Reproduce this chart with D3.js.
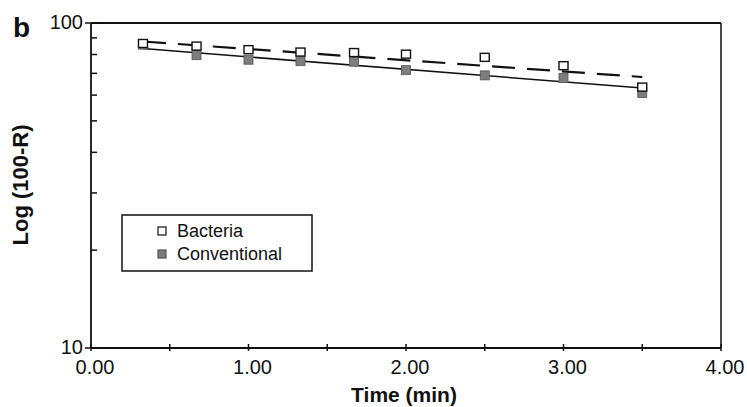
<!DOCTYPE html>
<html>
<head>
<meta charset="utf-8">
<script src="https://cdn.jsdelivr.net/npm/d3@7/dist/d3.min.js"></script>
<style>
  body { margin: 0; background: #fff; }
  text { font-family: "Liberation Sans", Arial, sans-serif; fill: #111; }
</style>
</head>
<body>
<div id="chart"></div>
<script>
// data
var times = [0.33, 0.67, 1.0, 1.33, 1.67, 2.0, 2.5, 3.0, 3.5];
var bacteria = [86.5, 84.9, 82.8, 81.4, 81.1, 80.2, 78.4, 73.9, 63.5];
var conventional = [85.8, 79.6, 77.1, 76.3, 76.0, 71.6, 69.0, 67.8, 60.9];
// regression lines (end points)
var fitTimes = [0.33, 3.5];
var bacteriaFit = [87.7, 68.2];
var conventionalFit = [83.4, 63.1];

var xTicks = [0, 1, 2, 3, 4];
var xMinorTicks = [0.5, 1.5, 2.5, 3.5];
var yTicks = [10, 100];
var yMinorTicks = [20, 30, 40, 50, 60, 70, 80, 90];

var W = 747, H = 407;
var mLeft = 91, mRight = 721, mTop = 23, mBottom = 348;

var svg = d3.select('#chart').append('svg')
  .attr('width', W).attr('height', H);

var x = d3.scaleLinear().domain([0, 4]).range([mLeft, mRight]);
var y = d3.scaleLog().domain([10, 100]).range([mBottom, mTop]);

// frame
svg.append('line').attr('x1', mLeft).attr('x2', mRight).attr('y1', mTop).attr('y2', mTop)
  .attr('stroke', '#111').attr('stroke-width', 2);
svg.append('line').attr('x1', mRight).attr('x2', mRight).attr('y1', mTop).attr('y2', mBottom)
  .attr('stroke', '#111').attr('stroke-width', 1.5);

// x axis
var xAxis = svg.append('g').attr('transform', 'translate(0,' + mBottom + ')');
xAxis.append('line').attr('x1', mLeft).attr('x2', mRight)
  .attr('stroke', '#111').attr('stroke-width', 1.8);
xAxis.selectAll('.xt').data(xTicks.concat(xMinorTicks)).enter().append('line')
  .attr('x1', function(d) { return x(d); }).attr('x2', function(d) { return x(d); })
  .attr('y1', -4).attr('y2', 3)
  .attr('stroke', '#111').attr('stroke-width', 1.5);
xAxis.selectAll('.xl').data(xTicks).enter().append('text')
  .attr('x', function(d) { return x(d) + 4; })
  .attr('y', 26)
  .attr('text-anchor', 'middle')
  .attr('font-size', 20)
  .text(function(d) { return d3.format('.2f')(d); });

// y axis
var yAxis = svg.append('g').attr('transform', 'translate(' + mLeft + ',0)');
yAxis.append('line').attr('y1', mTop).attr('y2', mBottom)
  .attr('stroke', '#111').attr('stroke-width', 1.8);
yAxis.selectAll('.ym').data(yMinorTicks).enter().append('line')
  .attr('y1', function(d) { return y(d); }).attr('y2', function(d) { return y(d); })
  .attr('x1', 0).attr('x2', 6)
  .attr('stroke', '#111').attr('stroke-width', 1.5);
yAxis.selectAll('.yM').data(yTicks).enter().append('line')
  .attr('y1', function(d) { return y(d); }).attr('y2', function(d) { return y(d); })
  .attr('x1', -6).attr('x2', 6)
  .attr('stroke', '#111').attr('stroke-width', 1.5);
yAxis.selectAll('.yl').data(yTicks).enter().append('text')
  .attr('x', -8)
  .attr('y', function(d) { return y(d) + 6; })
  .attr('text-anchor', 'end')
  .attr('font-size', 20)
  .text(function(d) { return d; });

// axis titles
svg.append('text').attr('x', 404).attr('y', 402)
  .attr('text-anchor', 'middle').attr('font-size', 21).attr('font-weight', 'bold')
  .text('Time (min)');
svg.append('text')
  .attr('transform', 'translate(28,185) rotate(-90)')
  .attr('text-anchor', 'middle').attr('font-size', 22).attr('font-weight', 'bold')
  .text('Log (100-R)');
svg.append('text').attr('x', 13).attr('y', 37)
  .attr('font-size', 28).attr('font-weight', 'bold')
  .text('b');

// fit lines
var fit = d3.line()
  .x(function(d) { return x(d[0]); })
  .y(function(d) { return y(d[1]); });
svg.append('path').datum(d3.zip(fitTimes, conventionalFit))
  .attr('d', fit).attr('fill', 'none')
  .attr('stroke', '#111').attr('stroke-width', 1.5);
svg.append('path').datum(d3.zip(fitTimes, bacteriaFit))
  .attr('d', fit).attr('fill', 'none')
  .attr('stroke', '#111').attr('stroke-width', 2.2)
  .attr('stroke-dasharray', '23,12');

// markers
var s = 9;
svg.selectAll('.conv').data(d3.zip(times, conventional)).enter().append('rect')
  .attr('x', function(d) { return x(d[0]) - s / 2; })
  .attr('y', function(d) { return y(d[1]) - s / 2; })
  .attr('width', s).attr('height', s)
  .attr('fill', '#7d7d7d').attr('stroke', '#555').attr('stroke-width', 0.8);
svg.selectAll('.bact').data(d3.zip(times, bacteria)).enter().append('rect')
  .attr('x', function(d) { return x(d[0]) - s / 2; })
  .attr('y', function(d) { return y(d[1]) - s / 2 + 0.5; })
  .attr('width', s).attr('height', s - 1)
  .attr('fill', '#fff').attr('stroke', '#111').attr('stroke-width', 1.4);

// legend
var lg = svg.append('g');
lg.append('rect').attr('x', 122).attr('y', 215).attr('width', 190).attr('height', 56)
  .attr('fill', '#fff').attr('stroke', '#111').attr('stroke-width', 1.5);
var legendItems = [
  { name: 'Bacteria', fill: '#fff', stroke: '#111' },
  { name: 'Conventional', fill: '#7d7d7d', stroke: '#555' }
];
var li = lg.selectAll('.li').data(legendItems).enter().append('g')
  .attr('transform', function(d, i) { return 'translate(162,' + (231 + i * 23) + ')'; });
li.append('rect').attr('x', -4).attr('y', -4).attr('width', 8).attr('height', 8)
  .attr('fill', function(d) { return d.fill; })
  .attr('stroke', function(d) { return d.stroke; }).attr('stroke-width', 1.2);
li.append('text').attr('x', 15).attr('y', 6).attr('font-size', 18)
  .text(function(d) { return d.name; });
</script>
</body>
</html>
